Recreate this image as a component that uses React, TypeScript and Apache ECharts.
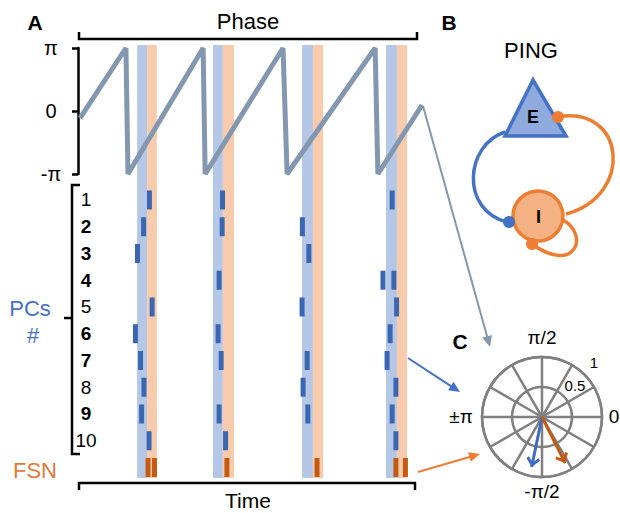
import React, { useEffect, useRef } from 'react';
import * as echarts from 'echarts';

const PI = Math.PI;
const FONT = '"Liberation Sans", Arial, sans-serif';

// Panel A – phase of the population rhythm (time in ms, phase in rad)
const phaseTimes = [0.6, 14.1, 14.7, 36.8, 37.4, 60.3, 61.5, 87.4, 88.2, 101.2];
const phaseValues = [-0.35, PI, -PI, PI, -PI, PI, -PI, PI, -PI, 0.3];
const phaseTickLabels = ['-π', '0', 'π'];

// shaded windows: E (blue) and I (orange) activity per cycle
const eBands = [[17.4, 20.3], [39.7, 42.6], [65.9, 69.1], [90.6, 93.8]];
const iBands = [[20.3, 23.2], [42.6, 45.9], [69.1, 72.1], [93.8, 96.8]];

// raster rows
const rowLabels = ['1', '2', '3', '4', '5', '6', '7', '8', '9', '10', 'FSN'];
const boldRows = ['2', '3', '4', '6', '7', '9'];
const pcSpikes = [
  [21.0, 42.5, 92.4],
  [19.3, 42.4, 66.0],
  [17.5, 67.9],
  [41.5, 89.7, 92.9],
  [21.8, 65.9, 93.7],
  [16.9, 41.2, 91.8],
  [18.4, 42.1, 67.4, 90.9],
  [19.4, 66.2, 93.5],
  [18.7, 41.5, 67.6, 92.4],
  [20.9, 43.4, 93.5],
];
const fsnSpikes = [20.6, 22.5, 43.8, 70.3, 93.5, 96.3];

// Panel C – mean phase vectors
const vectorColors = ['#3F6CBC', '#C55A11'];
const vectorLength = [0.85, 0.86];
const vectorAngle = [-101.7, -63.3];

const chevron = 'path://M6.9,0 L7.1,0 L7,0.2 Z M7,10 L14,17.8 L12,20 L7,14.5 L2,20 L0,17.8 Z';

function arrow(x1: number, y1: number, x2: number, y2: number, color: string, w = 2) {
  const dx = x2 - x1, dy = y2 - y1;
  const L = Math.sqrt(dx * dx + dy * dy);
  const ux = dx / L, uy = dy / L;
  const hl = 11, hw = 5;
  const bx = x2 - ux * hl, by = y2 - uy * hl;
  return [
    { type: 'line', shape: { x1, y1, x2: bx + ux * 2, y2: by + uy * 2 }, style: { stroke: color, lineWidth: w }, silent: true },
    {
      type: 'polygon',
      shape: { points: [[x2, y2], [bx - uy * hw, by + ux * hw], [bx + uy * hw, by - ux * hw]] },
      style: { fill: color }, silent: true,
    },
  ];
}

function txt(text: string, x: number, y: number, size: number, color = '#000', bold = false) {
  return {
    type: 'text', silent: true,
    style: {
      text, x, y, fill: color,
      font: `${bold ? 'bold ' : ''}${size}px ${FONT}`,
      textAlign: 'center', textVerticalAlign: 'middle', align: 'center', verticalAlign: 'middle',
    },
  };
}

function buildOption() {
  const pcData: [number, string][] = [];
  pcSpikes.forEach((row, i) => row.forEach((t) => pcData.push([t, rowLabels[i]])));
  const fsnData = fsnSpikes.map((t) => [t, 'FSN']);
  const blk = '#000';

  const graphics: any[] = [
    // brackets
    { type: 'polyline', shape: { points: [[79, 32], [79, 39], [417, 39], [417, 32]] }, style: { stroke: blk, lineWidth: 2.5, fill: null } },
    { type: 'polyline', shape: { points: [[79, 490], [79, 483], [415, 483], [415, 490]] }, style: { stroke: blk, lineWidth: 2.5, fill: null } },
    { type: 'polyline', shape: { points: [[80, 185], [72, 185], [72, 454], [80, 454]] }, style: { stroke: blk, lineWidth: 2.5, fill: null } },
    { type: 'line', shape: { x1: 72, y1: 318, x2: 64, y2: 318 }, style: { stroke: blk, lineWidth: 2.5 } },
    txt('Phase', 248, 21, 22),
    txt('Time', 248, 500, 21),
    txt('A', 35, 22, 21, blk, true),
    txt('B', 449, 22, 21, blk, true),
    txt('C', 460, 341, 21, blk, true),
    txt('PCs', 30, 308, 22, '#4472C4'),
    txt('#', 33, 335, 22, '#4472C4'),
    txt('FSN', 35, 470, 22, '#E07B39'),
    txt('PING', 531, 50, 22),
    // PING motif
    { type: 'bezierCurve', shape: { x1: 505, y1: 132, cpx1: 465, cpy1: 145, cpx2: 460, cpy2: 210, x2: 507, y2: 222 }, style: { stroke: '#4472C4', lineWidth: 3.5, fill: null } },
    { type: 'bezierCurve', shape: { x1: 558, y1: 117, cpx1: 625, cpy1: 105, cpx2: 635, cpy2: 195, x2: 566, y2: 214 }, style: { stroke: '#ED7D31', lineWidth: 3.5, fill: null } },
    { type: 'bezierCurve', shape: { x1: 563, y1: 220, cpx1: 590, cpy1: 235, cpx2: 575, cpy2: 275, x2: 532, y2: 244 }, style: { stroke: '#ED7D31', lineWidth: 3.5, fill: null } },
    { type: 'polygon', shape: { points: [[533, 80], [505, 136], [566, 136]] }, style: { fill: '#8FAADC', stroke: '#4472C4', lineWidth: 3.5 } },
    { type: 'circle', shape: { cx: 538, cy: 216, r: 25 }, style: { fill: '#F4B183', stroke: '#ED7D31', lineWidth: 3.5 } },
    { type: 'circle', shape: { cx: 509, cy: 222, r: 6 }, style: { fill: '#4472C4' } },
    { type: 'circle', shape: { cx: 558, cy: 117, r: 6 }, style: { fill: '#ED7D31' } },
    { type: 'circle', shape: { cx: 532, cy: 244, r: 6 }, style: { fill: '#ED7D31' } },
    txt('E', 533, 117, 18, blk, true),
    txt('I', 538.5, 217, 18, blk, true),
    // polar labels
    txt('π/2', 542, 337, 19),
    txt('-π/2', 542, 491, 19),
    txt('±π', 461, 416, 19),
    txt('0', 614, 416, 19),
    txt('1', 594, 362, 15),
    txt('0.5', 575, 385, 15),
    // thin phase continuation
    ...arrow(423, 106, 490, 347, '#8497B0', 2),
    ...arrow(408, 358, 460, 392, '#4472C4', 2),
    ...arrow(418, 472, 480, 454, '#ED7D31', 2),
  ];

  const xBase = { type: 'value', min: 0, max: 105, show: false };

  return {
    animation: false,
    backgroundColor: '#fff',
    grid: [
      { left: 78, top: 45, width: 357, height: 433 },
      { left: 78, top: 48, width: 357, height: 126 },
      { left: 78, top: 186.6, width: 357, height: 294.25 },
    ],
    xAxis: [
      { ...xBase, gridIndex: 0 },
      { ...xBase, gridIndex: 1 },
      { ...xBase, gridIndex: 2 },
    ],
    yAxis: [
      { type: 'value', gridIndex: 0, min: 0, max: 1, show: false },
      {
        type: 'value', gridIndex: 1, min: -PI, max: PI, interval: PI, offset: 6,
        axisLine: { show: true, lineStyle: { color: blk, width: 2.5 } },
        axisTick: { show: true, length: 6, lineStyle: { color: blk, width: 2.5 } },
        splitLine: { show: false },
        axisLabel: {
          margin: 21, align: 'center', color: blk, fontSize: 20, fontFamily: FONT,
          formatter: (v: number) => (v < -1 ? phaseTickLabels[0] : v > 1 ? phaseTickLabels[2] : phaseTickLabels[1]),
        },
      },
      {
        type: 'category', gridIndex: 2, data: rowLabels, inverse: true,
        axisLine: { show: false }, axisTick: { show: false }, splitLine: { show: false },
        axisLabel: {
          margin: -8, align: 'center', fontFamily: FONT,
          formatter: (v: string) => (v === 'FSN' ? '' : boldRows.includes(v) ? `{b|${v}}` : `{n|${v}}`),
          rich: {
            b: { fontWeight: 'bold', fontSize: 19, color: blk, fontFamily: FONT },
            n: { fontSize: 19, color: blk, fontFamily: FONT },
          },
        },
      },
    ],
    polar: { center: [542, 417], radius: 60 },
    angleAxis: {
      type: 'value', min: -180, max: 180, interval: 30, startAngle: 180, clockwise: false,
      axisLine: { show: true, lineStyle: { color: '#808080', width: 2.5 } },
      axisTick: { show: false }, axisLabel: { show: false },
      splitLine: { show: true, lineStyle: { color: '#808080', width: 2.5 } },
    },
    radiusAxis: {
      type: 'value', min: 0, max: 1, interval: 0.5,
      axisLine: { show: false }, axisTick: { show: false }, axisLabel: { show: false },
      splitLine: { show: true, lineStyle: { color: '#808080', width: 2.5 } },
    },
    series: [
      {
        type: 'line', xAxisIndex: 0, yAxisIndex: 0, data: [], silent: true, z: 0,
        markArea: { silent: true, itemStyle: { color: '#B4C7E7', opacity: 1 }, label: { show: false },
          data: eBands.map(([a, b]) => [{ xAxis: a }, { xAxis: b }]) },
      },
      {
        type: 'line', xAxisIndex: 0, yAxisIndex: 0, data: [], silent: true, z: 0,
        markArea: { silent: true, itemStyle: { color: '#F8CBAD', opacity: 1 }, label: { show: false },
          data: iBands.map(([a, b]) => [{ xAxis: a }, { xAxis: b }]) },
      },
      {
        type: 'line', xAxisIndex: 1, yAxisIndex: 1, z: 3, clip: false, showSymbol: false, silent: true,
        data: phaseTimes.map((t, i) => [t, phaseValues[i]]),
        lineStyle: { color: '#8497B0', width: 5 },
      },
      {
        type: 'scatter', xAxisIndex: 2, yAxisIndex: 2, z: 4, silent: true,
        symbol: 'rect', symbolSize: [5, 19], data: pcData,
        itemStyle: { color: '#3B67B2', opacity: 1 },
      },
      {
        type: 'scatter', xAxisIndex: 2, yAxisIndex: 2, z: 4, silent: true,
        symbol: 'rect', symbolSize: [5, 19], data: fsnData,
        itemStyle: { color: '#C55A11', opacity: 1 },
      },
      ...vectorLength.map((len, i) => ({
        type: 'line', coordinateSystem: 'polar', z: 5, silent: true,
        lineStyle: { color: vectorColors[i], width: 3 },
        itemStyle: { color: vectorColors[i] },
        data: [
          { value: [0, vectorAngle[i]], symbol: 'none' },
          { value: [len, vectorAngle[i]], symbol: chevron, symbolSize: [14, 20], symbolRotate: vectorAngle[i] - 90 },
        ],
      })),
    ],
    graphic: { elements: graphics },
  };
}

export default function App() {
  const ref = useRef<HTMLDivElement>(null);
  useEffect(() => {
    const chart = echarts.init(ref.current!, null, { renderer: 'svg', width: 620, height: 513 });
    chart.setOption(buildOption() as any);
    return () => chart.dispose();
  }, []);
  return <div ref={ref} style={{ position: 'fixed', left: 0, top: 0, width: 620, height: 513 }} />;
}
